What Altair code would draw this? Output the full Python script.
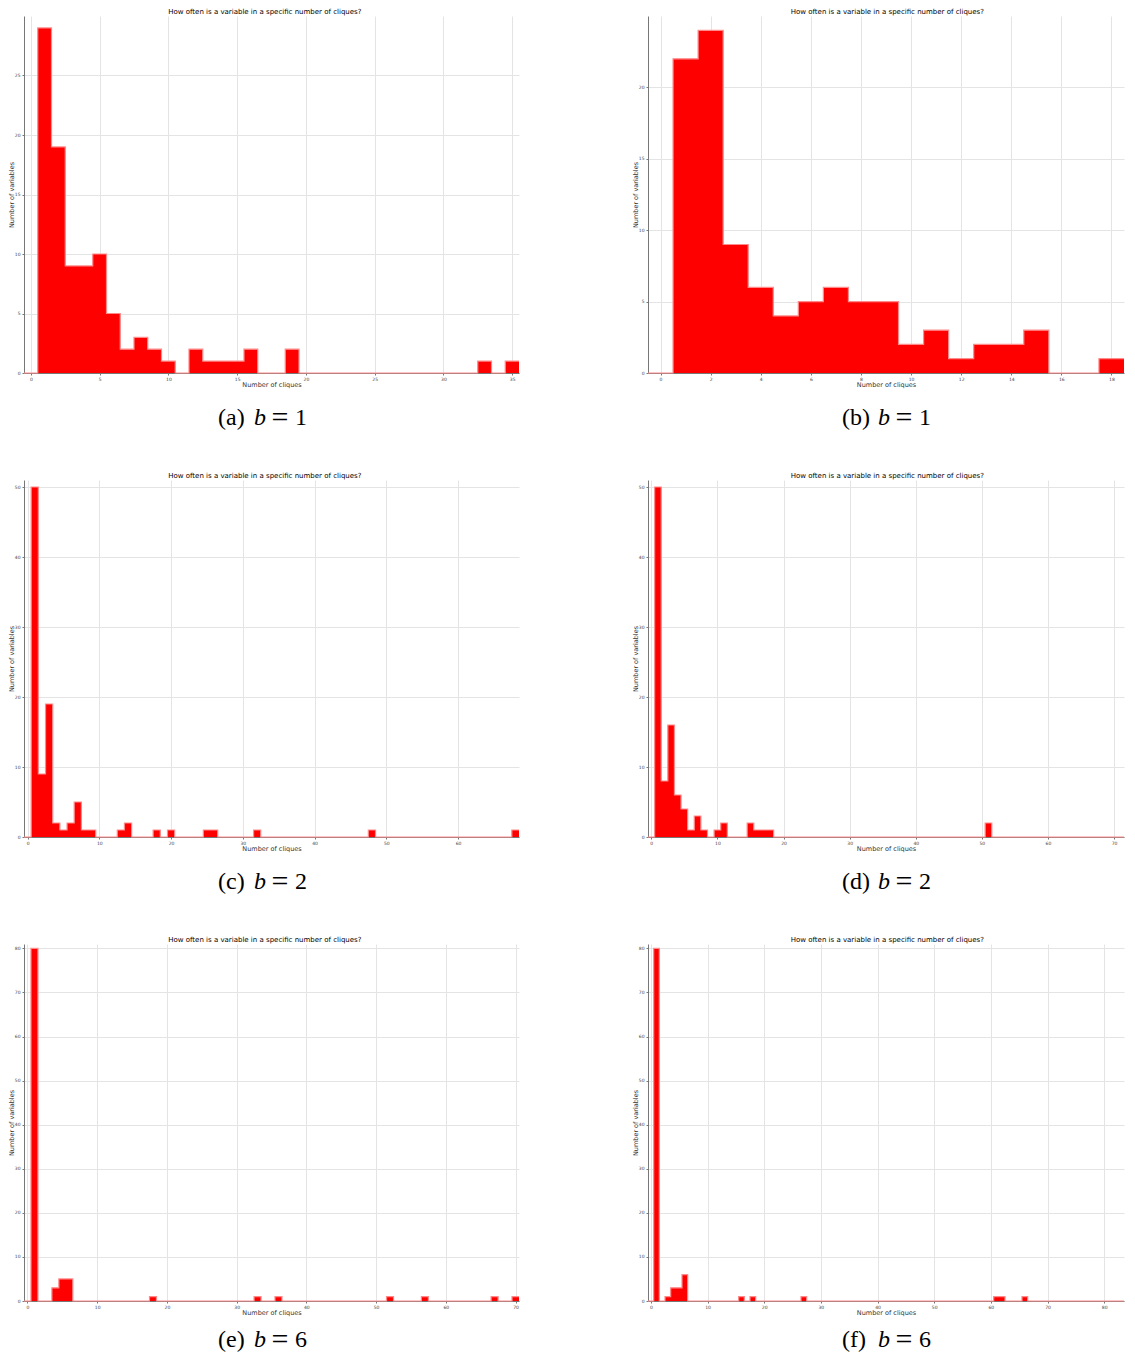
import altair as alt
import pandas as pd

TITLE = "How often is a variable in a specific number of cliques?"
X_TITLE = "Number of cliques"
Y_TITLE = "Number of variables"

# (a) b = 1
a_cliques = [1, 2, 3, 4, 5, 6, 7, 8, 9, 10, 12, 13, 14, 15, 16, 19, 33, 35]
a_counts = [29, 19, 9, 9, 10, 5, 2, 3, 2, 1, 2, 1, 1, 1, 2, 2, 1, 1]
a_last = 35
# (b) b = 1
b_cliques = [1, 2, 3, 4, 5, 6, 7, 8, 9, 10, 11, 12, 13, 14, 15, 18]
b_counts = [22, 24, 9, 6, 4, 5, 6, 5, 5, 2, 3, 1, 2, 2, 3, 1]
b_last = 18
# (c) b = 2
c_cliques = [1, 2, 3, 4, 5, 6, 7, 8, 9, 13, 14, 18, 20, 25, 26, 32, 48, 68]
c_counts = [50, 9, 19, 2, 1, 2, 5, 1, 1, 1, 2, 1, 1, 1, 1, 1, 1, 1]
c_last = 68
# (d) b = 2
d_cliques = [1, 2, 3, 4, 5, 6, 7, 8, 10, 11, 15, 16, 17, 18, 51]
d_counts = [50, 8, 16, 6, 4, 1, 3, 1, 1, 2, 2, 1, 1, 1, 2]
d_last = 71
# (e) b = 6
e_cliques = [1, 4, 5, 6, 18, 33, 36, 52, 57, 67, 70]
e_counts = [80, 3, 5, 5, 1, 1, 1, 1, 1, 1, 1]
e_last = 70
# (f) b = 6
f_cliques = [1, 3, 4, 5, 6, 16, 18, 27, 61, 62, 66]
f_counts = [80, 1, 3, 3, 6, 1, 1, 1, 1, 1, 1]
f_last = 83

x_ticks_a = [0, 5, 10, 15, 20, 25, 30, 35]
x_ticks_b = [0, 2, 4, 6, 8, 10, 12, 14, 16, 18]
x_ticks_c = [0, 10, 20, 30, 40, 50, 60]
x_ticks_d = [0, 10, 20, 30, 40, 50, 60, 70]
x_ticks_e = [0, 10, 20, 30, 40, 50, 60, 70]
x_ticks_f = [0, 10, 20, 30, 40, 50, 60, 70, 80]
y_ticks_a = [0, 5, 10, 15, 20, 25]
y_ticks_b = [0, 5, 10, 15, 20]
y_ticks_cd = [0, 10, 20, 30, 40, 50]
y_ticks_ef = [0, 10, 20, 30, 40, 50, 60, 70, 80]

panel_tags = ["(a)", "(b)", "(c)", "(d)", "(e)", "(f)"]
panel_b = ["1", "1", "2", "2", "6", "6"]

SANS = "DejaVu Sans"
SERIF = "Liberation Serif"
H = 357
W_LEFT = 495
W_RIGHT = 476
CAP_SIZE = 24


def make_panel(cliques, counts, last, width, xvals, yvals, ymax, tag, bval, cap_dy):
    full = [0] * (last + 1)
    for c, n in zip(cliques, counts):
        full[c] = n
    step = pd.DataFrame({"left": [c - 0.5 for c in range(last + 1)] + [last + 0.5],
                         "n": full + [full[-1]]})
    xs = alt.Scale(domain=[-0.5, last + 0.5], nice=False, zero=False)
    ys = alt.Scale(domain=[0, ymax], nice=False)
    xaxis = alt.Axis(values=xvals, title=X_TITLE, labelPadding=1, titlePadding=1,
                     labelFlush=False)
    yaxis = alt.Axis(values=yvals, title=Y_TITLE, labelPadding=2, titlePadding=0)
    fill = (
        alt.Chart(step)
        .mark_area(interpolate="step-after", color="#ff0000", opacity=1)
        .encode(x=alt.X("left:Q", scale=xs, axis=xaxis),
                y=alt.Y("n:Q", scale=ys, axis=yaxis))
    )
    outline = (
        alt.Chart(step)
        .mark_line(interpolate="step-after", color="#ff8a8a", strokeWidth=1.2)
        .encode(x=alt.X("left:Q", scale=xs, axis=xaxis),
                y=alt.Y("n:Q", scale=ys, axis=yaxis))
    )
    cap_df = pd.DataFrame({"tag": [tag], "b": ["b"], "eq": ["="], "v": [bval]})
    cx = 194
    cy = H + cap_dy
    common = dict(font=SERIF, baseline="alphabetic", color="black")
    cap1 = alt.Chart(cap_df).mark_text(align="left", fontSize=CAP_SIZE, **common).encode(
        text="tag:N", x=alt.value(cx), y=alt.value(cy))
    cap2 = alt.Chart(cap_df).mark_text(align="left", fontStyle="italic", fontSize=CAP_SIZE,
                                       **common).encode(
        text="b:N", x=alt.value(cx + 36), y=alt.value(cy))
    cap3 = alt.Chart(cap_df).mark_text(align="center", fontSize=30, dy=2, **common).encode(
        text="eq:N", x=alt.value(cx + 62), y=alt.value(cy))
    cap4 = alt.Chart(cap_df).mark_text(align="left", fontSize=CAP_SIZE, **common).encode(
        text="v:N", x=alt.value(cx + 77), y=alt.value(cy))
    title_dx = 0 if width == W_LEFT else 8
    return alt.layer(fill, outline, cap1, cap2, cap3, cap4).properties(
        width=width, height=H,
        title=alt.TitleParams(TITLE, fontSize=7, font=SANS, fontWeight="normal",
                              color="black", offset=1, anchor="middle", frame="bounds",
                              dx=title_dx),
    )


pa = make_panel(a_cliques, a_counts, a_last, W_LEFT, x_ticks_a, y_ticks_a, 30, panel_tags[0], panel_b[0], 52)
pb = make_panel(b_cliques, b_counts, b_last, W_RIGHT, x_ticks_b, y_ticks_b, 25, panel_tags[1], panel_b[1], 52)
pc = make_panel(c_cliques, c_counts, c_last, W_LEFT, x_ticks_c, y_ticks_cd, 51, panel_tags[2], panel_b[2], 52)
pd_ = make_panel(d_cliques, d_counts, d_last, W_RIGHT, x_ticks_d, y_ticks_cd, 51, panel_tags[3], panel_b[3], 52)
pe = make_panel(e_cliques, e_counts, e_last, W_LEFT, x_ticks_e, y_ticks_ef, 81, panel_tags[4], panel_b[4], 46)
pf = make_panel(f_cliques, f_counts, f_last, W_RIGHT, x_ticks_f, y_ticks_ef, 81, panel_tags[5], panel_b[5], 46)

chart = (
    alt.concat(pa, pb, pc, pd_, pe, pf, columns=2,
               spacing=alt.RowColnumber(row=107, column=129), bounds="flush")
    .properties(padding=0)
    .configure_view(stroke=None)
    .configure_axis(
        labelFont=SANS, titleFont=SANS, labelFontSize=4.5, titleFontSize=6.5,
        titleFontWeight="normal", labelColor="#444444", titleColor="#333333",
        tickSize=2, tickColor="#777777", domainColor="#777777",
        gridColor="#e4e4e4", gridWidth=1,
    )
)

chart.save("out.html", embed_options={"renderer": "svg", "actions": False})
